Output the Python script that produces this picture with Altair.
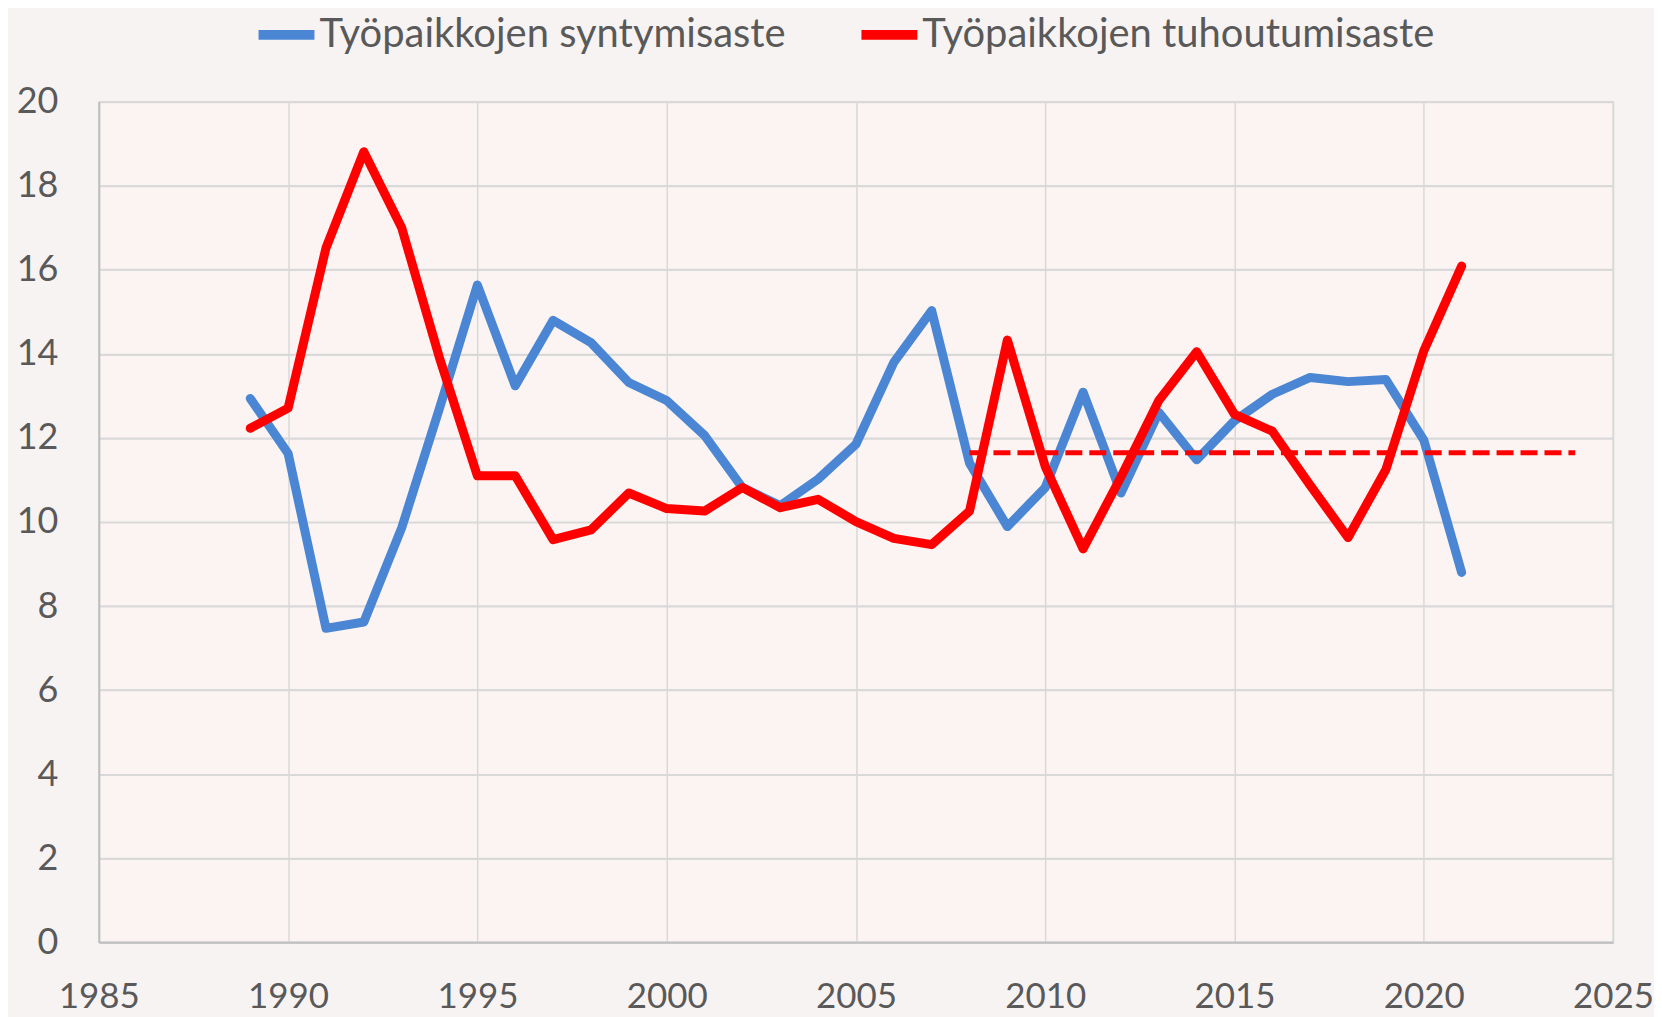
import altair as alt
import pandas as pd

years = list(range(1989, 2022))
birth_rate = [12.94, 11.63, 7.47, 7.62, 9.86, 12.71, 15.64, 13.24, 14.80, 14.27,
              13.32, 12.89, 12.06, 10.82, 10.39, 11.02, 11.85, 13.80, 15.03, 11.40,
              9.89, 10.82, 13.09, 10.69, 12.61, 11.48, 12.41, 13.04, 13.44, 13.34,
              13.39, 11.95, 8.80]
death_rate = [12.23, 12.71, 16.52, 18.81, 17.00, 13.90, 11.10, 11.10, 9.58, 9.81,
              10.69, 10.32, 10.26, 10.82, 10.34, 10.54, 10.01, 9.61, 9.46, 10.26,
              14.33, 11.32, 9.36, 11.07, 12.89, 14.05, 12.56, 12.16, 10.87, 9.63,
              11.25, 14.07, 16.09]
series_names = ["Työpaikkojen syntymisaste", "Työpaikkojen tuhoutumisaste"]
series_colors = ["#4A86D4", "#FF0000"]
avg_years = [2008, 2024]
avg_values = [11.65, 11.65]
x_ticks = [1985, 1990, 1995, 2000, 2005, 2010, 2015, 2020, 2025]
y_ticks = [0, 2, 4, 6, 8, 10, 12, 14, 16, 18, 20]

df = pd.DataFrame({
    "vuosi": years * 2,
    "arvo": birth_rate + death_rate,
    "sarja": [series_names[0]] * len(years) + [series_names[1]] * len(years),
})
avg_df = pd.DataFrame({"vuosi": avg_years, "arvo": avg_values})

FONT = "Lato"
TXT = "#595959"

x_enc = alt.X("vuosi:Q", scale=alt.Scale(domain=[1985, 2025], nice=False, zero=False),
              axis=alt.Axis(values=x_ticks, format="d", title=None, labelFontSize=35,
                            labelFont=FONT, labelColor=TXT, labelPadding=65,
                            labelBaseline="alphabetic", ticks=False, tickSize=0,
                            domainColor="#BFBFBF", domainWidth=2,
                            gridColor="#D9D9D9", gridWidth=1.5, labelFlush=False))
y_enc = alt.Y("arvo:Q", scale=alt.Scale(domain=[0, 20], nice=False),
              axis=alt.Axis(values=y_ticks, title=None, labelFontSize=36,
                            labelFont=FONT, labelColor=TXT, labelPadding=41,
                            labelBaseline="middle", ticks=False, tickSize=0,
                            domainColor="#BFBFBF", domainWidth=2,
                            gridColor="#D9D9D9", gridWidth=2.2))

lines = alt.Chart(df).mark_line(strokeWidth=9, strokeCap="round", strokeJoin="round").encode(
    x=x_enc,
    y=y_enc,
    color=alt.Color("sarja:N",
                    scale=alt.Scale(domain=series_names, range=series_colors),
                    legend=alt.Legend(title=None, orient="none", direction="horizontal",
                                      columns=2, legendX=155, legendY=-100,
                                      symbolType="stroke", symbolSize=3136,
                                      symbolStrokeWidth=10, labelOffset=0,
                                      labelFont=FONT, labelFontSize=40, labelColor=TXT,
                                      columnPadding=55, padding=0, labelLimit=1000)),
)

avg = alt.Chart(avg_df).mark_line(color="#FF0000", strokeWidth=5, strokeDash=[17, 7]).encode(
    x="vuosi:Q", y="arvo:Q"
)

chart = alt.layer(lines, avg).properties(
    width=1517, height=842,
    autosize=alt.AutoSizeParams(type="none"),
    padding={"left": 91, "top": 93, "right": 41, "bottom": 80},
    background="#F8F3F3",
).configure_view(stroke="#D9D9D9", strokeWidth=1.5, fill="#FBF4F2")

chart.save("out.html", embed_options={"renderer": "svg", "actions": False})
